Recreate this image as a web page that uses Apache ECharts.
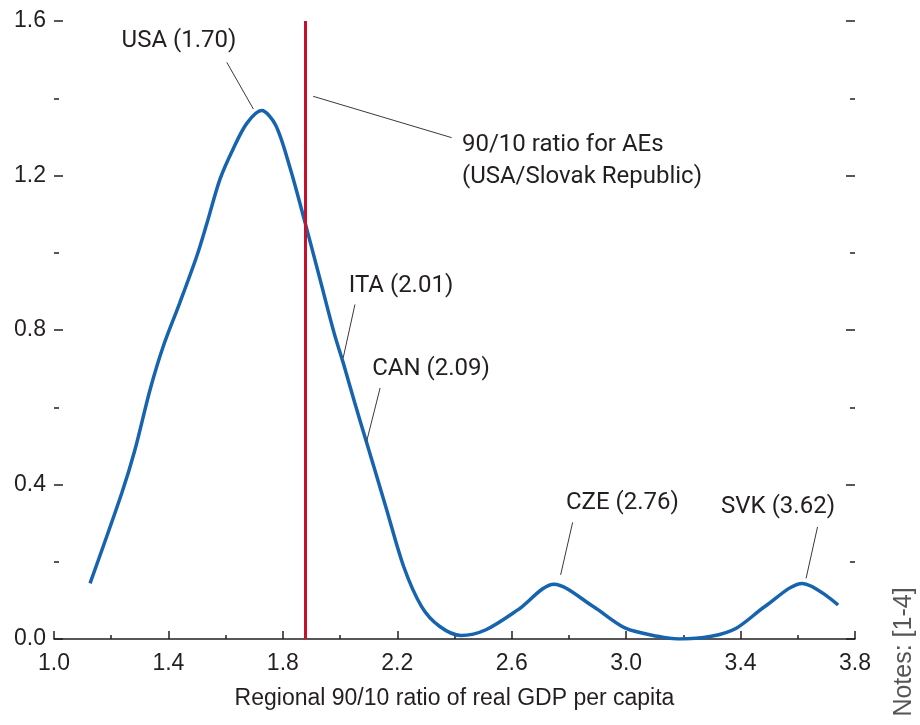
<!DOCTYPE html>
<html>
<head>
<meta charset="utf-8">
<script src="https://cdn.jsdelivr.net/npm/echarts@6/dist/echarts.min.js"></script>
<style>
html,body{margin:0;padding:0;background:#fff;}
#chart{width:920px;height:725px;}
</style>
</head>
<body>
<div id="chart"></div>
<script>
// ---- data ----
var ratioX = [1.126, 1.237, 1.283, 1.336, 1.382, 1.44, 1.499, 1.534, 1.58, 1.627, 1.674, 1.726, 1.775, 1.825, 1.877, 1.93, 1.98, 2.011, 2.05, 2.093, 2.16, 2.2225, 2.285, 2.3475, 2.4225, 2.51, 2.6225, 2.7475, 2.885, 2.9975, 3.11, 3.185, 3.2975, 3.385, 3.485, 3.616, 3.741];
var density = [0.144, 0.378, 0.490, 0.646, 0.758, 0.871, 0.991, 1.075, 1.19, 1.27, 1.335, 1.368, 1.33, 1.22, 1.08, 0.931, 0.79, 0.715, 0.615, 0.508, 0.342, 0.187, 0.084, 0.033, 0.009, 0.024, 0.076, 0.142, 0.084, 0.028, 0.007, 0.0, 0.007, 0.028, 0.084, 0.144, 0.088];
var aeRatio = 1.88;
var xTickLabels = ['1.0', '1.4', '1.8', '2.2', '2.6', '3.0', '3.4', '3.8'];
var yTickLabels = ['0.0', '0.4', '0.8', '1.2', '1.6'];
var annotationTexts = ['USA (1.70)', 'ITA (2.01)', 'CAN (2.09)', 'CZE (2.76)', 'SVK (3.62)', '90/10 ratio for AEs\n(USA/Slovak Republic)'];
var xAxisTitle = 'Regional 90/10 ratio of real GDP per capita';
var notesText = 'Notes: [1-4]';

// ---- layout of annotations (data coordinates) ----
var annLayout = [
  {text: [1.437, 1.548], from: [1.604, 1.493], to: [1.697, 1.372], align: 'center'},
  {text: [2.213, 0.915], from: [2.052, 0.866], to: [2.011, 0.728], align: 'center'},
  {text: [2.318, 0.698], from: [2.140, 0.650], to: [2.093, 0.512], align: 'center'},
  {text: [2.987, 0.351], from: [2.813, 0.302], to: [2.771, 0.166], align: 'center'},
  {text: [3.531, 0.343], from: [3.669, 0.290], to: [3.629, 0.157], align: 'center'},
  {text: [2.426, 1.238], from: [2.390, 1.298], to: [1.906, 1.405], align: 'left'}
];

var curve = ratioX.map(function (x, i) { return [x, density[i]]; });
var ink = '#231f20';
var tickFont = 'Liberation Sans';
var annFont = 'Roboto';

var leaderData = annLayout.map(function (a) {
  return [{coord: a.from}, {coord: a.to}];
});
var textPoints = annLayout.map(function (a, i) {
  return {
    coord: a.text,
    label: {formatter: annotationTexts[i], align: a.align}
  };
});

var chart = echarts.init(document.getElementById('chart'), null, {renderer: 'canvas'});
chart.setOption({
  backgroundColor: '#ffffff',
  animation: false,
  grid: {left: 54, right: 65, top: 21, bottom: 86, containLabel: false},
  xAxis: {
    type: 'value', min: 1.0, max: 3.8, interval: 0.4,
    name: xAxisTitle, nameLocation: 'middle', nameGap: 48,
    nameTextStyle: {fontFamily: tickFont, fontSize: 23, color: ink},
    axisLine: {show: true, lineStyle: {color: ink, width: 1.5}},
    axisTick: {show: true, inside: true, length: 8, lineStyle: {color: ink, width: 1.5}},
    minorTick: {show: true, splitNumber: 2, length: 4, lineStyle: {color: ink, width: 1.5}},
    axisLabel: {
      margin: 13, fontFamily: tickFont, fontSize: 23, color: ink,
      formatter: function (v) { var i = Math.round((v - 1.0) / 0.4); return xTickLabels[i] !== undefined ? xTickLabels[i] : v.toFixed(1); }
    },
    splitLine: {show: false}, minorSplitLine: {show: false}
  },
  yAxis: [{
    type: 'value', min: 0, max: 1.6, interval: 0.4, position: 'left',
    axisLine: {show: false},
    axisTick: {show: true, inside: true, length: 9, lineStyle: {color: ink, width: 1.5}},
    minorTick: {show: true, splitNumber: 2, length: 5, lineStyle: {color: ink, width: 1.5}},
    axisLabel: {
      margin: 8, fontFamily: tickFont, fontSize: 23, color: ink,
      formatter: function (v) { var i = Math.round(v / 0.4); return yTickLabels[i] !== undefined ? yTickLabels[i] : v.toFixed(1); }
    },
    splitLine: {show: false}
  }, {
    type: 'value', min: 0, max: 1.6, interval: 0.4, position: 'right',
    axisLine: {show: false},
    axisTick: {show: true, inside: true, length: 9, lineStyle: {color: ink, width: 1.5}},
    minorTick: {show: true, splitNumber: 2, length: 5, lineStyle: {color: ink, width: 1.5}},
    axisLabel: {show: false},
    splitLine: {show: false}
  }],
  series: [{
    name: 'AE line', type: 'line', data: [], silent: true,
    markLine: {
      silent: true, symbol: ['none', 'none'], animation: false,
      label: {show: false},
      lineStyle: {color: '#c8102e', width: 3, type: 'solid'},
      data: [{xAxis: aeRatio}]
    }
  }, {
    name: 'density', type: 'line', data: curve,
    smooth: 0.3,
    showSymbol: false, symbol: 'none',
    lineStyle: {color: '#1764ae', width: 3.5},
    z: 3
  }, {
    name: 'annotations', type: 'line', data: [], silent: true,
    markLine: {
      silent: true, symbol: ['none', 'none'], animation: false,
      label: {show: false},
      lineStyle: {color: '#3a3a3a', width: 1, type: 'solid'},
      data: leaderData
    },
    markPoint: {
      silent: true, symbol: 'circle', symbolSize: 0,
      label: {
        show: true, position: 'inside', color: ink,
        fontFamily: annFont, fontSize: 24, lineHeight: 32,
        verticalAlign: 'middle'
      },
      data: textPoints
    }
  }],
  graphic: [{
    type: 'text', x: 904, y: 652, rotation: Math.PI / 2,
    style: {
      text: notesText, fontFamily: tickFont, fontSize: 25, fill: '#555555',
      align: 'center', verticalAlign: 'middle'
    }
  }]
});
</script>
</body>
</html>
